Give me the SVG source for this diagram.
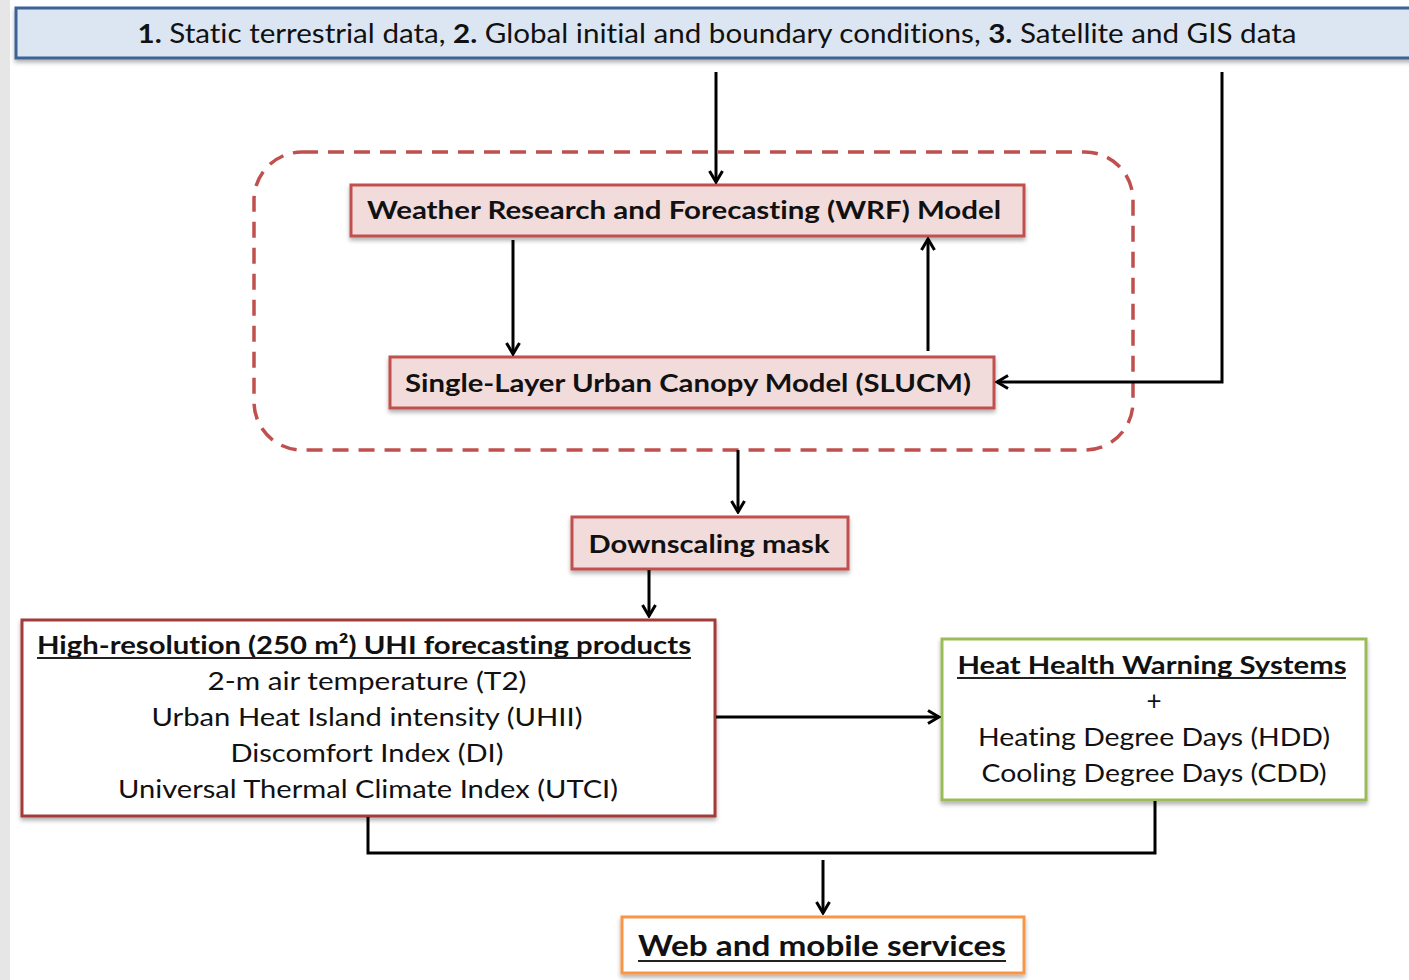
<svg xmlns="http://www.w3.org/2000/svg" width="1409" height="980" viewBox="0 0 1409 980">
<defs>
<style>
.t{font-family:Lato,"Open Sans","Liberation Sans",sans-serif;fill:#111;text-anchor:middle;font-variant-ligatures:none;font-feature-settings:"liga" 0,"clig" 0}
.b{font-weight:bold}
.n{font-weight:normal}
.c{fill:none;stroke:#000;stroke-width:3}
.red{fill:#f2dcdb;stroke:#c0504d;stroke-width:3}
.ul{stroke:#222;stroke-width:2}
</style>
<marker id="ah" viewBox="0 0 16 16" refX="14" refY="8" markerWidth="16" markerHeight="16" markerUnits="userSpaceOnUse" orient="auto">
<polyline points="3,1.5 14,8 3,14.5" fill="none" stroke="#000" stroke-width="3"/>
</marker>
<filter id="sh" x="-5%" y="-20%" width="110%" height="150%">
<feDropShadow dx="0" dy="3" stdDeviation="2" flood-color="#000" flood-opacity="0.3"/>
</filter>
</defs>
<rect width="1409" height="980" fill="#fff"/>
<rect x="0" y="0" width="10" height="980" fill="#e6e6e6"/>

<g id="top">
<rect x="16" y="8" width="1400" height="50" fill="#dce6f2" stroke="#3d6396" stroke-width="3" filter="url(#sh)"/>
<text class="t" x="717" y="43" font-size="26" textLength="1159" lengthAdjust="spacingAndGlyphs"><tspan class="b">1.</tspan><tspan class="n"> Static terrestrial data, </tspan><tspan class="b">2.</tspan><tspan class="n"> Global initial and boundary conditions, </tspan><tspan class="b">3.</tspan><tspan class="n"> Satellite and GIS data</tspan></text>
</g>

<g id="coupled">
<rect x="254" y="152" width="879" height="298" rx="48" ry="48" fill="none" stroke="#c0504d" stroke-width="3.5" stroke-dasharray="16,10"/>
</g>

<g id="wrf">
<rect class="red" x="351" y="185" width="673" height="51" filter="url(#sh)"/>
<text class="t b" x="684" y="219" font-size="25" textLength="634" lengthAdjust="spacingAndGlyphs">Weather Research and Forecasting (WRF) Model</text>
</g>

<g id="slucm">
<rect class="red" x="390" y="357" width="604" height="51" filter="url(#sh)"/>
<text class="t b" x="688" y="392" font-size="25" textLength="566" lengthAdjust="spacingAndGlyphs">Single-Layer Urban Canopy Model (SLUCM)</text>
</g>

<g id="mask">
<rect class="red" x="572" y="517" width="276" height="52" filter="url(#sh)"/>
<text class="t b" x="709" y="553" font-size="25" textLength="241" lengthAdjust="spacingAndGlyphs">Downscaling mask</text>
</g>

<g id="products">
<rect x="22" y="620" width="693" height="196" fill="#fff" stroke="#a33b38" stroke-width="3" filter="url(#sh)"/>
<text class="t b" x="364" y="654" font-size="25" textLength="654" lengthAdjust="spacingAndGlyphs">High-resolution (250 m²) UHI forecasting products</text>
<line class="ul" x1="37" y1="658" x2="691" y2="658"/>
<text class="t n" x="367" y="690" font-size="25" textLength="319" lengthAdjust="spacingAndGlyphs">2-m air temperature (T2)</text>
<text class="t n" x="367" y="726" font-size="25" textLength="431" lengthAdjust="spacingAndGlyphs">Urban Heat Island intensity (UHII)</text>
<text class="t n" x="367" y="762" font-size="25" textLength="273" lengthAdjust="spacingAndGlyphs">Discomfort Index (DI)</text>
<text class="t n" x="368" y="798" font-size="25" textLength="500" lengthAdjust="spacingAndGlyphs">Universal Thermal Climate Index (UTCI)</text>
</g>

<g id="hhws">
<rect x="942" y="639" width="424" height="161" fill="#fff" stroke="#9bbb59" stroke-width="3" filter="url(#sh)"/>
<text class="t b" x="1152" y="674" font-size="25" textLength="389" lengthAdjust="spacingAndGlyphs">Heat Health Warning Systems</text>
<line class="ul" x1="957" y1="678" x2="1346" y2="678"/>
<text class="t n" x="1154" y="710" font-size="26">+</text>
<text class="t n" x="1154" y="746" font-size="25" textLength="352" lengthAdjust="spacingAndGlyphs">Heating Degree Days (HDD)</text>
<text class="t n" x="1154" y="782" font-size="25" textLength="345" lengthAdjust="spacingAndGlyphs">Cooling Degree Days (CDD)</text>
</g>

<g id="web">
<rect x="622" y="917" width="402" height="56" fill="#fff" stroke="#f79646" stroke-width="3" filter="url(#sh)"/>
<text class="t b" x="822" y="956" font-size="29" textLength="368" lengthAdjust="spacingAndGlyphs">Web and mobile services</text>
<line class="ul" x1="638" y1="961" x2="1006" y2="961"/>
</g>

<g id="connectors">
<line class="c" x1="716" y1="72" x2="716" y2="182" marker-end="url(#ah)"/>
<polyline class="c" points="1222,72 1222,382 997,382" marker-end="url(#ah)"/>
<line class="c" x1="513" y1="240" x2="513" y2="354" marker-end="url(#ah)"/>
<line class="c" x1="928" y1="351" x2="928" y2="239" marker-end="url(#ah)"/>
<line class="c" x1="738" y1="450" x2="738" y2="512" marker-end="url(#ah)"/>
<line class="c" x1="649" y1="570" x2="649" y2="616" marker-end="url(#ah)"/>
<line class="c" x1="716" y1="717" x2="939" y2="717" marker-end="url(#ah)"/>
<polyline class="c" points="368,817 368,853 1155,853 1155,801"/>
<line class="c" x1="823" y1="860" x2="823" y2="913" marker-end="url(#ah)"/>
</g>
</svg>
